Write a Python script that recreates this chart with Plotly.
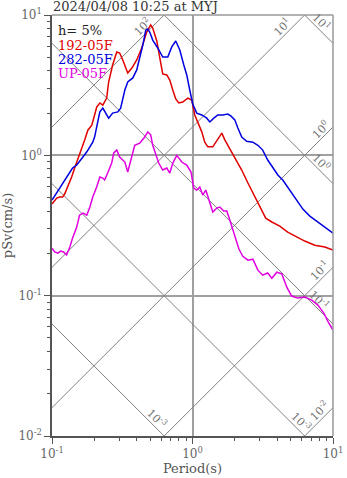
import numpy as np
import plotly.graph_objects as go

# ---------------- data ----------------
title_text = "2024/04/08 10:25 at MYJ"
damping_text = "h= 5%"
series_names = ["192-05F", "282-05F", "UP-05F"]
series_colors = ["#e00000", "#0000e0", "#e000e0"]

period_192 = [0.100, 0.108, 0.1135, 0.119, 0.123, 0.129, 0.138, 0.145, 0.152, 0.163,
              0.171, 0.180, 0.192, 0.201, 0.208, 0.219, 0.230, 0.245, 0.253, 0.270,
              0.289, 0.303, 0.319, 0.346, 0.370, 0.401, 0.435, 0.472, 0.504, 0.521,
              0.557, 0.585, 0.614, 0.656, 0.689, 0.724, 0.760, 0.799, 0.853, 0.925,
              0.988, 1.038, 1.090, 1.164, 1.223, 1.285, 1.395, 1.513, 1.617, 1.698,
              1.783, 1.905, 2.07, 2.24, 2.48, 2.69, 2.87, 3.11, 3.32, 3.67,
              4.18, 4.76, 5.52, 6.29, 7.42, 8.75, 10.0]
psv_192 = [0.450, 0.496, 0.504, 0.504, 0.530, 0.594, 0.700, 0.812, 0.926, 1.09,
           1.29, 1.51, 1.64, 1.94, 2.21, 2.36, 2.28, 2.56, 3.33, 4.40,
           5.45, 5.36, 4.78, 3.86, 4.19, 4.78, 5.82, 7.57, 8.49, 8.08,
           6.53, 4.94, 3.80, 3.74, 3.44, 2.92, 2.52, 2.36, 2.40, 2.56,
           2.48, 1.94, 1.73, 1.47, 1.24, 1.15, 1.15, 1.29, 1.44, 1.29,
           1.18, 1.06, 0.896, 0.786, 0.635, 0.539, 0.480, 0.407, 0.357, 0.335,
           0.313, 0.284, 0.262, 0.245, 0.229, 0.222, 0.211]

period_282 = [0.100, 0.108, 0.119, 0.127, 0.134, 0.140, 0.150, 0.157, 0.166, 0.177,
              0.186, 0.195, 0.201, 0.208, 0.219, 0.230, 0.245, 0.253, 0.270, 0.294,
              0.308, 0.330, 0.346, 0.376, 0.401, 0.421, 0.443, 0.465, 0.480, 0.496,
              0.521, 0.566, 0.614, 0.667, 0.712, 0.760, 0.812, 0.867, 0.910, 0.956,
              1.004, 1.072, 1.164, 1.264, 1.328, 1.418, 1.513, 1.643, 1.783, 1.874,
              2.00, 2.10, 2.24, 2.43, 2.69, 2.92, 3.16, 3.43, 3.73, 4.05,
              4.39, 4.92, 5.52, 6.10, 6.84, 7.67, 8.75, 10.0]
psv_282 = [0.480, 0.539, 0.635, 0.689, 0.760, 0.812, 0.853, 0.911, 0.973, 1.06,
           1.15, 1.24, 1.35, 1.57, 2.04, 2.17, 1.94, 1.84, 2.00, 2.04,
           2.17, 2.92, 3.33, 3.56, 4.06, 4.94, 6.11, 7.82, 7.95, 7.57,
           6.63, 5.82, 5.02, 5.02, 5.92, 6.53, 5.63, 4.40, 3.74, 2.92,
           2.32, 2.00, 1.94, 1.84, 1.73, 1.84, 1.94, 1.94, 1.97, 1.91,
           1.79, 1.57, 1.35, 1.26, 1.24, 1.18, 1.09, 0.926, 0.812, 0.724,
           0.667, 0.566, 0.480, 0.414, 0.369, 0.340, 0.308, 0.279]

period_up = [0.100, 0.1045, 0.110, 0.1153, 0.121, 0.127, 0.134, 0.140, 0.150, 0.157,
             0.166, 0.177, 0.186, 0.195, 0.208, 0.219, 0.230, 0.237, 0.249, 0.266,
             0.275, 0.289, 0.303, 0.330, 0.346, 0.370, 0.388, 0.421, 0.457, 0.480,
             0.504, 0.521, 0.548, 0.575, 0.614, 0.656, 0.689, 0.724, 0.773, 0.839,
             0.910, 0.976, 1.021, 1.072, 1.127, 1.183, 1.243, 1.328, 1.395, 1.489,
             1.563, 1.671, 1.754, 1.843, 1.936, 2.03, 2.14, 2.28, 2.48, 2.69,
             2.92, 3.16, 3.43, 3.67, 3.98, 4.32, 4.69, 5.08, 5.61, 6.29,
             7.06, 7.80, 8.60, 9.26, 10.0]
psv_up = [0.218, 0.205, 0.201, 0.208, 0.205, 0.195, 0.222, 0.257, 0.308, 0.375,
          0.388, 0.375, 0.428, 0.504, 0.594, 0.700, 0.689, 0.667, 0.748, 0.881,
          1.04, 1.09, 0.973, 0.896, 0.760, 1.00, 1.18, 1.22, 1.35, 1.47,
          1.40, 1.18, 1.00, 0.881, 0.786, 0.812, 0.748, 0.881, 1.00, 0.896,
          0.853, 0.760, 0.585, 0.566, 0.594, 0.521, 0.566, 0.464, 0.394, 0.421,
          0.428, 0.401, 0.401, 0.346, 0.294, 0.249, 0.215, 0.191, 0.179, 0.182,
          0.152, 0.140, 0.145, 0.133, 0.147, 0.143, 0.115, 0.0994, 0.0961, 0.0977,
          0.0930, 0.0857, 0.0752, 0.0648, 0.0569]

# tripartite guide levels
accel_levels = [0.01, 0.1, 1, 10, 100]          # cm/s^2  (lines rising to the right)
accel_labels = ["10<sup>-2</sup>", "10<sup>-1</sup>", "10<sup>0</sup>", "10<sup>1</sup>", "10<sup>2</sup>"]
accel_label_T = [8.75, 8.75, 8.89, 4.76, 0.480]
disp_levels = [0.001, 0.01, 0.1, 1, 10]          # cm  (lines falling to the right)
disp_labels = ["10<sup>-3</sup>", "10<sup>-3</sup>", "10<sup>-1</sup>", "10<sup>0</sup>", "10<sup>1</sup>"]
disp_label_T = [0.513, 5.42, 7.38, 7.63, 7.67]

x_tick_vals = [0.1, 1, 10]
x_tick_text = ["10<sup>-1</sup>", "10<sup>0</sup>", "10<sup>1</sup>"]
y_tick_vals = [0.01, 0.1, 1, 10]
y_tick_text = ["10<sup>-2</sup>", "10<sup>-1</sup>", "10<sup>0</sup>", "10<sup>1</sup>"]

# ---------------- figure ----------------
FONT = "DejaVu Serif, Liberation Serif, serif"
W, H = 347, 478
ML, MR, MT, MB = 52, 14, 15, 42

fig = go.Figure()

T_span = np.array([0.1, 10.0])
twopi = 2 * np.pi
for a in accel_levels:
    fig.add_trace(go.Scatter(x=T_span, y=a * T_span / twopi, mode="lines",
                             line=dict(color="#808080", width=1), hoverinfo="skip",
                             showlegend=False))
for d in disp_levels:
    fig.add_trace(go.Scatter(x=T_span, y=twopi * d / T_span, mode="lines",
                             line=dict(color="#808080", width=1), hoverinfo="skip",
                             showlegend=False))

for name, px_, py_, col in zip(series_names,
                               [period_192, period_282, period_up],
                               [psv_192, psv_282, psv_up], series_colors):
    fig.add_trace(go.Scatter(x=px_, y=py_, mode="lines", name=name,
                             line=dict(color=col, width=1.5), showlegend=False))

annotations = []
for a, lab, t in zip(accel_levels, accel_labels, accel_label_T):
    sv = a * t / twopi
    annotations.append(dict(x=np.log10(t), y=np.log10(sv), xref="x", yref="y",
                            text=lab, showarrow=False, textangle=-45,
                            xshift=-5, yshift=5,
                            font=dict(family=FONT, size=11, color="#707070")))
for d, lab, t in zip(disp_levels, disp_labels, disp_label_T):
    sv = twopi * d / t
    annotations.append(dict(x=np.log10(t), y=np.log10(sv), xref="x", yref="y",
                            text=lab, showarrow=False, textangle=45,
                            xshift=5, yshift=5,
                            font=dict(family=FONT, size=11, color="#707070")))

plot_h = H - MT - MB
legend_texts = [damping_text] + series_names
legend_colors = ["#222222"] + series_colors
legend_y_px = [30, 45, 59, 73]
for txt, col, ypx in zip(legend_texts, legend_colors, legend_y_px):
    annotations.append(dict(x=4 / (W - ML - MR), y=1 - (ypx - MT) / plot_h,
                            xref="paper", yref="paper", text=txt, showarrow=False,
                            xanchor="left", yanchor="middle",
                            font=dict(family=FONT, size=13, color=col)))

fig.update_layout(
    width=W, height=H,
    margin=dict(l=ML, r=MR, t=MT, b=MB, pad=0, autoexpand=False),
    paper_bgcolor="white", plot_bgcolor="white",
    showlegend=False,
    title=dict(text=title_text, x=(ML + 1) / W, xanchor="left",
               y=1 - 6 / H, yanchor="middle",
               font=dict(family=FONT, size=13, color="#333333")),
    annotations=annotations,
    shapes=[
        dict(type="line", xref="paper", yref="paper", x0=0, x1=1, y0=1, y1=1,
             line=dict(color="#999999", width=1.5)),
        dict(type="line", xref="paper", yref="paper", x0=1, x1=1, y0=0, y1=1,
             line=dict(color="#999999", width=1.5)),
    ],
)

minor_x = [k * 10.0 ** e for e in (-1, 0) for k in range(2, 10)]
minor_y = [k * 10.0 ** e for e in (-2, -1, 0) for k in range(2, 10)]

fig.update_xaxes(
    type="log", range=[-1, 1], automargin=False,
    tickmode="array", tickvals=x_tick_vals, ticktext=x_tick_text,
    ticks="outside", ticklen=6, tickwidth=1, tickcolor="#555555",
    minor=dict(tickmode="array", tickvals=minor_x, ticks="outside", ticklen=3,
               tickcolor="#555555", showgrid=False),
    showline=True, linecolor="#555555", linewidth=1.5,
    showgrid=True, gridcolor="#a0a0a0", gridwidth=1.5, zeroline=False,
    tickfont=dict(family=FONT, size=12, color="#666666"),
    title=dict(text="Period(s)", font=dict(family=FONT, size=13, color="#555555"),
               standoff=3),
)
fig.update_yaxes(
    type="log", range=[-2, 1], automargin=False,
    tickmode="array", tickvals=y_tick_vals, ticktext=y_tick_text,
    ticks="outside", ticklen=6, tickwidth=1, tickcolor="#555555",
    minor=dict(tickmode="array", tickvals=minor_y, ticks="outside", ticklen=3,
               tickcolor="#555555", showgrid=False),
    showline=True, linecolor="#555555", linewidth=1.5,
    showgrid=True, gridcolor="#a0a0a0", gridwidth=1.5, zeroline=False,
    tickfont=dict(family=FONT, size=12, color="#666666"),
    title=dict(text="pSv(cm/s)", font=dict(family=FONT, size=13, color="#555555"),
               standoff=3),
)

fig.write_html("out.html")
